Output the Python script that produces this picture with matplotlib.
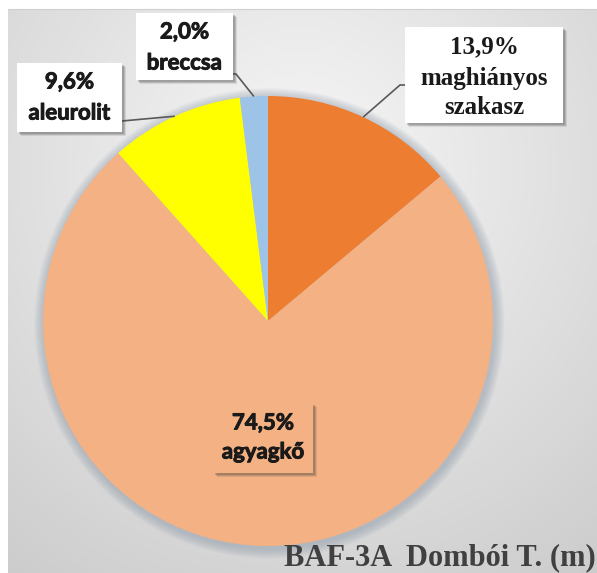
import numpy as np
import matplotlib
matplotlib.use("Agg")
import matplotlib.pyplot as plt
import matplotlib.patheffects as pe
from matplotlib.patches import Rectangle, Circle

# pie data (clockwise from 12 o'clock)
labels = ["maghiányos\nszakasz", "agyagkő", "aleurolit", "breccsa"]
values = [13.9, 74.5, 9.6, 2.0]
pct_text = ["13,9%", "74,5%", "9,6%", "2,0%"]
colors = ["#ED7D31", "#F4B183", "#FFFF00", "#9DC3E6"]
title = "BAF-3A  Dombói T. (m)"

W, H = 597, 573
fig = plt.figure(figsize=(W / 100, H / 100), dpi=100)
fig.patch.set_facecolor("white")

# background with radial gradient
ax_bg = fig.add_axes([8 / W, 0, 1 - 8 / W, (H - 9) / H])
yy, xx = np.mgrid[9:H, 8:W]
d = np.hypot(xx - 300, yy - 170)
g = np.clip(0.97 - 0.17 * d / 500, 0.78, 1.0)
ax_bg.imshow(np.dstack([g, g, g]), aspect="auto", extent=[8, W, H, 9])
ax_bg.axis("off")
fig.add_artist(plt.Line2D([8 / W, 1], [(H - 9) / H] * 2, color="#d0d0d0", lw=0.8))

# pie
cx, cy, r = 268, 321, 225
lim = 1.1
ax = fig.add_axes([(cx - lim * r) / W, (H - cy - lim * r) / H, 2 * lim * r / W, 2 * lim * r / H])
for i in range(10):
    ax.add_patch(Circle((0.006, -0.01), 1.0 + 0.0045 * (10 - i), color="#8c99a8",
                        alpha=0.06, lw=0, zorder=0))
ax.pie(values, colors=colors, startangle=90, counterclock=False, radius=1,
       wedgeprops=dict(linewidth=0, zorder=1))
ax.set_xlim(-lim, lim)
ax.set_ylim(-lim, lim)
ax.axis("off")

# overlay in pixel coordinates for labels
ov = fig.add_axes([0, 0, 1, 1])
ov.set_xlim(0, W)
ov.set_ylim(H, 0)
ov.axis("off")
ov.patch.set_alpha(0)

cum = np.cumsum([0] + values[:-1])
mid = np.radians(90 - 360 * (cum + np.array(values) / 2) / sum(values))
edge = [(cx + r * np.cos(a), cy - r * np.sin(a)) for a in mid]

# box geometry: (x0, y0, x1, y1), line y positions, facecolor, font
boxes = [
    ((405, 27, 563, 123), [47, 78, 107], "white", "serif"),
    ((213, 403, 313, 473), [423, 452], "#F4B183", "sans"),
    ((17, 63, 122, 132), [82, 113], "white", "sans"),
    ((136, 13, 233, 80), [32, 63], "white", "sans"),
]
# leader line bend points
bends = [[(400, 85), (405, 85)], None, [(122, 121)], [(236, 74), (233, 74)]]

for i, (bx, ys, fc, kind) in enumerate(boxes):
    x0, y0, x1, y1 = bx
    if bends[i] is not None:
        pts = [edge[i]] + bends[i]
        ov.plot([p[0] for p in pts], [p[1] for p in pts], color="#595959", lw=1.2,
                solid_capstyle="butt", zorder=2)
    for k, a in [(4, 0.12), (3, 0.18), (2, 0.22)]:
        ov.add_patch(Rectangle((x0 + k, y0 + k), x1 - x0, y1 - y0, color="#404040",
                               alpha=a, lw=0, zorder=3))
    ov.add_patch(Rectangle((x0, y0), x1 - x0, y1 - y0, facecolor=fc, lw=0, zorder=4))
    lines = [pct_text[i]] + labels[i].split("\n")
    xc = (x0 + x1) / 2
    for txt, y in zip(lines, ys):
        if kind == "serif":
            ov.text(xc, y, txt, ha="center", va="center", fontsize=18, fontweight="bold",
                    family="Liberation Serif", color="#1a1a1a", zorder=5)
        else:
            t = ov.text(xc, y, txt, ha="center", va="center", fontsize=16, fontweight="bold",
                        family="Lato", color="#1a1a1a", zorder=5)
            t.set_path_effects([pe.withStroke(linewidth=0.7, foreground="#1a1a1a")])

ov.text(596, 565, title, ha="right", va="baseline", fontsize=22, fontweight="bold",
        family="Liberation Serif", color="#404040", zorder=5)

fig.savefig("out.png", dpi=100)
